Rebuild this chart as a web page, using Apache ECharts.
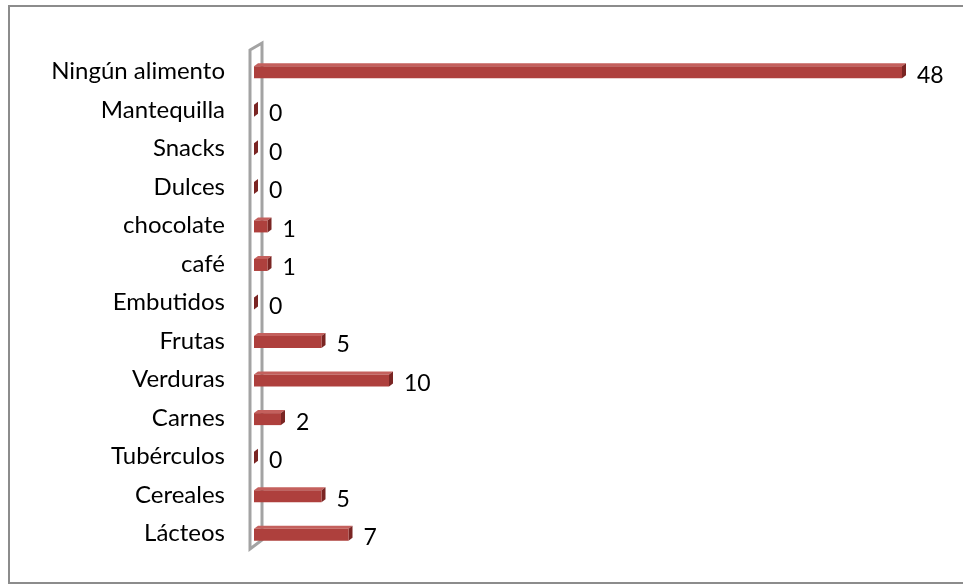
<!DOCTYPE html>
<html>
<head>
<meta charset="utf-8">
<script src="https://cdn.jsdelivr.net/npm/echarts@6/dist/echarts.min.js"></script>
<style>
  html, body { margin: 0; padding: 0; background: #fff; }
  #chart { width: 963px; height: 584px; }
</style>
</head>
<body>
<div id="chart"></div>
<script>
// Alimentos (de abajo hacia arriba) y número de respuestas
const categories = ['Lácteos', 'Cereales', 'Tubérculos', 'Carnes', 'Verduras', 'Frutas',
  'Embutidos', 'café', 'chocolate', 'Dulces', 'Snacks', 'Mantequilla', 'Ningún alimento'];
const values = [7, 5, 0, 2, 10, 5, 0, 1, 1, 0, 0, 0, 48];

const FRONT = '#AE403D';
const SIDE = '#7A2523';
const TOP = '#C4605D';
const WALL = '#A3A3A3';
const FONT = 'Lato, "Open Sans", sans-serif';

const chart = echarts.init(document.getElementById('chart'), null, { renderer: 'canvas' });

// Pseudo-3D bar: front face, top face and darker end face
function renderBar(params, api) {
  const cat = api.value(1);
  const v = api.value(0);
  const start = api.coord([0, cat]);
  const end = api.coord([v, cat]);
  const bh = 12, dx = 4, dy = 3;
  const yTop = start[1] - bh / 2 + 1;
  const x0 = start[0], x1 = end[0];
  const children = [];

  if (params.dataIndex === 0) {
    // thin side wall at the base of the bars
    const cs = params.coordSys;
    const fx = cs.x - 4, bx = cs.x + 8;
    children.push({
      type: 'polygon',
      shape: { points: [[fx, cs.y - 2], [bx, cs.y - 9], [bx, cs.y + cs.height - 13], [fx, cs.y + cs.height - 4]] },
      style: { fill: null, stroke: WALL, lineWidth: 3 },
      z2: 0
    });
  }

  children.push({
    type: 'polygon',
    shape: { points: [[x0, yTop], [x0 + dx, yTop - dy], [x1 + dx, yTop - dy], [x1, yTop]] },
    style: { fill: TOP },
    z2: 5
  });
  children.push({
    type: 'polygon',
    shape: { points: [[x1, yTop], [x1 + dx, yTop - dy], [x1 + dx, yTop + bh - dy], [x1, yTop + bh]] },
    style: { fill: SIDE },
    z2: 5
  });
  if (x1 > x0) {
    children.push({
      type: 'rect',
      shape: { x: x0, y: yTop, width: x1 - x0, height: bh },
      style: { fill: FRONT },
      z2: 6
    });
  }
  children.push({
    type: 'text',
    style: {
      text: String(v), x: x1 + dx + 11, y: start[1] + 4,
      fill: '#000', font: '23px ' + FONT, textAlign: 'left', textVerticalAlign: 'middle'
    },
    z2: 7
  });
  return { type: 'group', children };
}

chart.setOption({
  animation: false,
  backgroundColor: '#fff',
  grid: { left: 254, right: 34, top: 52, height: 501 },
  xAxis: { type: 'value', min: 0, max: 50, show: false },
  yAxis: {
    type: 'category',
    data: categories,
    axisLine: { show: false },
    axisTick: { show: false },
    splitLine: { show: false },
    axisLabel: { color: '#000', fontSize: 24, fontFamily: FONT, margin: 29 }
  },
  graphic: [{
    type: 'rect',
    shape: { x: 9, y: 6, width: 1000, height: 577 },
    style: { fill: null, stroke: '#8C8C8C', lineWidth: 2 },
    silent: true
  }],
  series: [{
    type: 'custom',
    renderItem: renderBar,
    encode: { x: 0, y: 1 },
    data: values.map((v, i) => [v, i]),
    clip: false
  }]
});
</script>
</body>
</html>
